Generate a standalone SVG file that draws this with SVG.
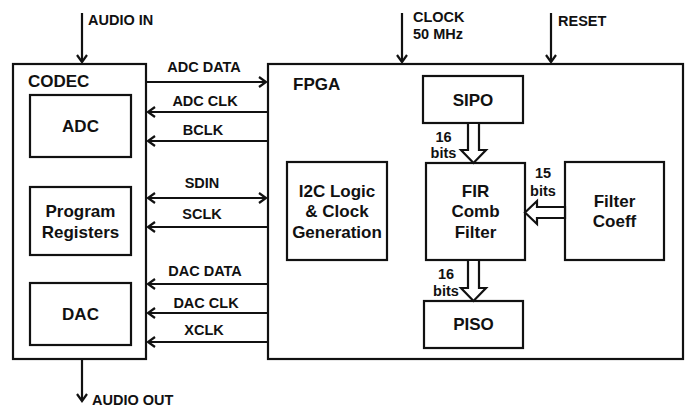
<svg xmlns="http://www.w3.org/2000/svg" width="686" height="409" viewBox="0 0 686 409">
<style>
  .box { fill: #fff; stroke: #111; stroke-width: 2.2; }
  .t { font-family: "Liberation Sans", Arial, sans-serif; font-weight: bold; fill: #111; }
  .big { font-size: 17px; }
  .lbl { font-size: 14.5px; }
  .mid { text-anchor: middle; }
  .wire { stroke: #111; stroke-width: 2.2; fill: none; }
  .bus { fill: #fff; stroke: #111; stroke-width: 2.2; stroke-linejoin: miter; }
</style>
<defs>
  <marker id="arr" viewBox="-10 -7 12 14" refX="0" refY="0" markerWidth="12" markerHeight="14" markerUnits="userSpaceOnUse" orient="auto-start-reverse">
    <path d="M-7,-5 L0,0 L-7,5" fill="none" stroke="#111" stroke-width="2.2"/>
  </marker>
</defs>

<g id="codec">
  <rect class="box" x="13" y="64" width="133" height="295"/>
  <text class="t big" x="28" y="87">CODEC</text>
</g>
<g id="adc">
  <rect class="box" x="30" y="95" width="101" height="62"/>
  <text class="t big mid" x="80.5" y="132">ADC</text>
</g>
<g id="program-registers">
  <rect class="box" x="30" y="187" width="101" height="68"/>
  <text class="t big mid" x="80.5" y="217">Program</text>
  <text class="t big mid" x="80.5" y="238">Registers</text>
</g>
<g id="dac">
  <rect class="box" x="30" y="283" width="101" height="62"/>
  <text class="t big mid" x="80.5" y="320">DAC</text>
</g>

<g id="fpga">
  <rect class="box" x="268" y="64" width="415" height="295"/>
  <text class="t big" x="293" y="90">FPGA</text>
</g>
<g id="sipo">
  <rect class="box" x="423" y="76" width="100" height="47"/>
  <text class="t big mid" x="473" y="106">SIPO</text>
</g>
<g id="i2c">
  <rect class="box" x="287" y="162" width="100" height="98"/>
  <text class="t big mid" x="337" y="197">I2C Logic</text>
  <text class="t big mid" x="337" y="217">&amp; Clock</text>
  <text class="t big mid" x="337" y="238">Generation</text>
</g>
<g id="fir">
  <rect class="box" x="426" y="163" width="99" height="97"/>
  <text class="t big mid" x="475.5" y="197">FIR</text>
  <text class="t big mid" x="475.5" y="217">Comb</text>
  <text class="t big mid" x="475.5" y="238">Filter</text>
</g>
<g id="filter-coeff">
  <rect class="box" x="565" y="162" width="99" height="98"/>
  <text class="t big mid" x="614.5" y="207">Filter</text>
  <text class="t big mid" x="614.5" y="227">Coeff</text>
</g>
<g id="piso">
  <rect class="box" x="424" y="301" width="99" height="47"/>
  <text class="t big mid" x="473.5" y="330">PISO</text>
</g>

<g id="connectors">
  <line class="wire" x1="82" y1="13" x2="82" y2="62" marker-end="url(#arr)"/>
  <line class="wire" x1="82" y1="360" x2="82" y2="401" marker-end="url(#arr)"/>
  <line class="wire" x1="402" y1="13" x2="402" y2="62" marker-end="url(#arr)"/>
  <line class="wire" x1="551" y1="13" x2="551" y2="62" marker-end="url(#arr)"/>
  <line class="wire" x1="147" y1="82" x2="266" y2="82" marker-end="url(#arr)"/>
  <line class="wire" x1="267" y1="112" x2="148" y2="112" marker-end="url(#arr)"/>
  <line class="wire" x1="267" y1="141" x2="148" y2="141" marker-end="url(#arr)"/>
  <line class="wire" x1="148" y1="198" x2="266" y2="198" marker-start="url(#arr)" marker-end="url(#arr)"/>
  <line class="wire" x1="267" y1="227" x2="148" y2="227" marker-end="url(#arr)"/>
  <line class="wire" x1="267" y1="284" x2="148" y2="284" marker-end="url(#arr)"/>
  <line class="wire" x1="267" y1="313" x2="148" y2="313" marker-end="url(#arr)"/>
  <line class="wire" x1="267" y1="342" x2="148" y2="342" marker-end="url(#arr)"/>
  <polygon class="bus" points="468,123 479,123 479,150 486,150 473.5,163 461,150 468,150"/>
  <polygon class="bus" points="468,260 479,260 479,288 486,288 473.5,301 461,288 468,288"/>
  <polygon class="bus" points="565,207 565,218 537,218 537,224 525,212.5 537,201 537,207"/>
</g>

<g id="labels">
  <text class="t lbl" x="88" y="25">AUDIO IN</text>
  <text class="t lbl" x="92" y="405">AUDIO OUT</text>
  <text class="t lbl" x="413" y="22">CLOCK</text>
  <text class="t lbl" x="413" y="39">50 MHz</text>
  <text class="t lbl" x="558" y="26">RESET</text>
  <text class="t lbl mid" x="204" y="72">ADC DATA</text>
  <text class="t lbl mid" x="205" y="106">ADC CLK</text>
  <text class="t lbl mid" x="203" y="135">BCLK</text>
  <text class="t lbl mid" x="202" y="188">SDIN</text>
  <text class="t lbl mid" x="202" y="219">SCLK</text>
  <text class="t lbl mid" x="205" y="276">DAC DATA</text>
  <text class="t lbl mid" x="206" y="308">DAC CLK</text>
  <text class="t lbl mid" x="204" y="335">XCLK</text>
  <text class="t lbl mid" x="443.5" y="142">16</text>
  <text class="t lbl mid" x="443.5" y="158">bits</text>
  <text class="t lbl mid" x="446" y="279">16</text>
  <text class="t lbl mid" x="446" y="296">bits</text>
  <text class="t lbl mid" x="543" y="178">15</text>
  <text class="t lbl mid" x="543" y="196">bits</text>
</g>
</svg>
